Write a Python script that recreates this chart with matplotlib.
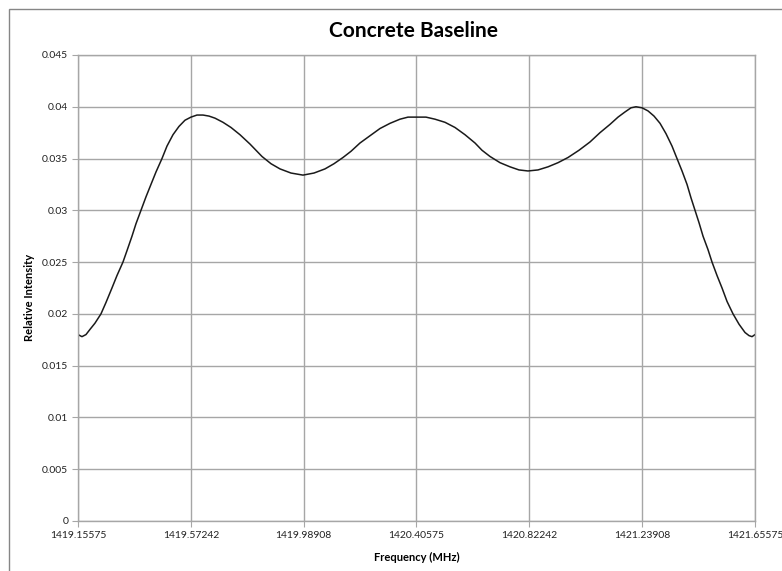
import matplotlib
matplotlib.use('Agg')
import matplotlib.pyplot as plt
from matplotlib.patches import Rectangle

plt.rcParams['font.family'] = ['Lato', 'DejaVu Sans']

# Measured baseline: frequency (MHz) vs relative intensity
freq = [1419.1558, 1419.1705, 1419.1853, 1419.2001, 1419.2185, 1419.2407,
        1419.2592, 1419.2813, 1419.2998, 1419.3219, 1419.3367, 1419.3552,
        1419.3699, 1419.3884, 1419.4069, 1419.4253, 1419.4438, 1419.4660,
        1419.4844, 1419.5066, 1419.5287, 1419.5509, 1419.5730, 1419.5952,
        1419.6174, 1419.6395, 1419.6617, 1419.6912, 1419.7208, 1419.7540,
        1419.7909, 1419.8352, 1419.8685, 1419.9017, 1419.9423, 1419.9866,
        1420.0273, 1420.0679, 1420.1011, 1420.1343, 1420.1639, 1420.1971,
        1420.2340, 1420.2710, 1420.3079, 1420.3448, 1420.3744, 1420.4076,
        1420.4408, 1420.4741, 1420.5110, 1420.5479, 1420.5849, 1420.6218,
        1420.6476, 1420.6772, 1420.7141, 1420.7510, 1420.7843, 1420.8175,
        1420.8544, 1420.8914, 1420.9283, 1420.9652, 1421.0058, 1421.0464,
        1421.0834, 1421.1203, 1421.1499, 1421.1757, 1421.1979, 1421.2163,
        1421.2385, 1421.2606, 1421.2828, 1421.3050, 1421.3271, 1421.3493,
        1421.3677, 1421.3862, 1421.4047, 1421.4194, 1421.4342, 1421.4490,
        1421.4638, 1421.4822, 1421.4970, 1421.5155, 1421.5339, 1421.5524,
        1421.5745, 1421.5967, 1421.6188, 1421.6336, 1421.6447, 1421.6558]
intensity = [0.0180, 0.0178, 0.0180, 0.0185, 0.0191, 0.0200,
             0.0211, 0.0225, 0.0237, 0.0250, 0.0261, 0.0275,
             0.0287, 0.0300, 0.0313, 0.0325, 0.0337, 0.0350,
             0.0362, 0.0373, 0.0381, 0.0387, 0.0390, 0.0392,
             0.0392, 0.0391, 0.0389, 0.0385, 0.0380, 0.0373,
             0.0364, 0.0352, 0.0345, 0.0340, 0.0336, 0.0334,
             0.0336, 0.0340, 0.0345, 0.0351, 0.0357, 0.0365,
             0.0372, 0.0379, 0.0384, 0.0388, 0.0390, 0.0390,
             0.0390, 0.0388, 0.0385, 0.0380, 0.0373, 0.0365,
             0.0358, 0.0352, 0.0346, 0.0342, 0.0339, 0.0338,
             0.0339, 0.0342, 0.0346, 0.0351, 0.0358, 0.0366,
             0.0375, 0.0383, 0.0390, 0.0395, 0.0399, 0.0400,
             0.0399, 0.0396, 0.0391, 0.0384, 0.0374, 0.0362,
             0.0350, 0.0338, 0.0325, 0.0312, 0.0300, 0.0288,
             0.0275, 0.0262, 0.0250, 0.0237, 0.0225, 0.0212,
             0.0200, 0.0190, 0.0182, 0.0179, 0.0178, 0.0180]

xticks = [1419.15575, 1419.57242, 1419.98908, 1420.40575, 1420.82242,
          1421.23908, 1421.65575]
xtick_labels = ['1419.15575', '1419.57242', '1419.98908', '1420.40575',
                '1420.82242', '1421.23908', '1421.65575']
yticks = [0, 0.005, 0.01, 0.015, 0.02, 0.025, 0.03, 0.035, 0.04, 0.045]
ytick_labels = ['0', '0.005', '0.01', '0.015', '0.02', '0.025', '0.03',
                '0.035', '0.04', '0.045']

grid_col = '#a6a6a6'

fig = plt.figure(figsize=(7.82, 5.71), dpi=100)
ax = fig.add_axes([0.0997, 0.0876, 0.8658, 0.8161])

# chart frame
fig.patches.append(Rectangle((9 / 782, -0.1), 1.2, 1 - 9 / 571 + 0.1,
                             transform=fig.transFigure, fill=False,
                             edgecolor='#868686', linewidth=1.0))

ax.plot(freq, intensity, color='#1a1a1a', linewidth=1.1)

ax.set_xlim(xticks[0], xticks[-1])
ax.set_ylim(0, 0.045)
ax.set_xticks(xticks)
ax.set_xticklabels(xtick_labels)
ax.set_yticks(yticks)
ax.set_yticklabels(ytick_labels)
ax.tick_params(labelsize=7.5, length=4, width=0.8, color=grid_col,
               labelcolor='#222222', pad=3)

ax.grid(True, color=grid_col, linewidth=1.0)
ax.set_axisbelow(True)
for s in ax.spines.values():
    s.set_color(grid_col)
    s.set_linewidth(1.0)

fig.text(413 / 782, 1 - 31 / 571, 'Concrete Baseline', fontsize=15,
         fontweight='bold', ha='center', va='center')
ax.set_xlabel('Frequency (MHz)', fontsize=8, fontweight='bold')
ax.set_ylabel('Relative Intensity', fontsize=8, fontweight='bold')
ax.xaxis.set_label_coords(0.5, -0.0665)
ax.yaxis.set_label_coords(-0.0635, 0.48)

fig.savefig('out.png', dpi=100)
